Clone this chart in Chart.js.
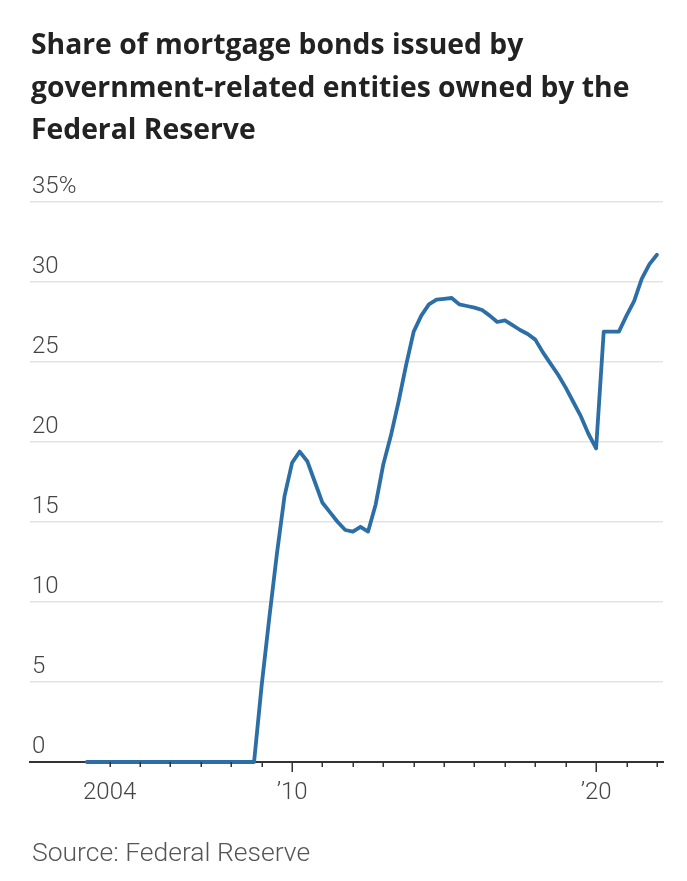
<!DOCTYPE html>
<html>
<head>
<meta charset="utf-8">
<script src="https://cdn.jsdelivr.net/npm/chart.js@4.4.1/dist/chart.umd.min.js"></script>
<style>
  html, body { margin: 0; padding: 0; background: #fff; }
  #wrap { position: relative; width: 687px; height: 881px; overflow: hidden; }
  #chart { position: absolute; left: 0; top: 0; }
  #title {
    position: absolute; left: 31px; top: 22px; width: 650px;
    font-family: "Open Sans", Roboto, sans-serif; font-weight: 700;
    font-size: 28.3px; line-height: 42.5px; color: #222;
  }
  #source {
    position: absolute; left: 32px; top: 837px;
    font-family: Roboto, "Noto Sans", sans-serif; font-weight: 300;
    font-size: 26.5px; line-height: 30px; color: #555;
  }
</style>
</head>
<body>
<div id="wrap">
  <canvas id="chart" width="687" height="881"></canvas>
  <div id="title">Share of mortgage bonds issued by<br>government-related entities owned by the<br>Federal Reserve</div>
  <div id="source">Source: Federal Reserve</div>
</div>
<script>
// quarterly observations, decimal years
const quarterDates = [
  2003.25, 2003.5, 2003.75,
  2004, 2004.25, 2004.5, 2004.75,
  2005, 2005.25, 2005.5, 2005.75,
  2006, 2006.25, 2006.5, 2006.75,
  2007, 2007.25, 2007.5, 2007.75,
  2008, 2008.25, 2008.5, 2008.75,
  2009, 2009.25, 2009.5, 2009.75,
  2010, 2010.25, 2010.5, 2010.75,
  2011, 2011.25, 2011.5, 2011.75,
  2012, 2012.25, 2012.5, 2012.75,
  2013, 2013.25, 2013.5, 2013.75,
  2014, 2014.25, 2014.5, 2014.75,
  2015, 2015.25, 2015.5, 2015.75,
  2016, 2016.25, 2016.5, 2016.75,
  2017, 2017.25, 2017.5, 2017.75,
  2018, 2018.25, 2018.5, 2018.75,
  2019, 2019.25, 2019.5, 2019.75,
  2020, 2020.25, 2020.5, 2020.75,
  2021, 2021.25, 2021.5, 2021.75,
  2022
]

// share owned by the Fed, %
const fedShare = [
  0, 0, 0,
  0, 0, 0, 0,
  0, 0, 0, 0,
  0, 0, 0, 0,
  0, 0, 0, 0,
  0, 0, 0, 0,
  4.8, 9.0, 13.0, 16.6,
  18.7, 19.4, 18.8, 17.5,
  16.2, 15.6, 15.0, 14.5,
  14.4, 14.7, 14.4, 16.1,
  18.6, 20.4, 22.5, 24.8,
  26.9, 27.9, 28.6, 28.9,
  28.95, 29.0, 28.6, 28.5,
  28.4, 28.25, 27.9, 27.5,
  27.6, 27.3, 27.0, 26.75,
  26.4, 25.6, 24.9, 24.2,
  23.4, 22.5, 21.6, 20.5,
  19.6, 26.9, 26.9, 26.9,
  27.9, 28.8, 30.2, 31.1,
  31.7
]

const yearTicks = [2004, 2005, 2006, 2007, 2008, 2009, 2010, 2011, 2012, 2013,
  2014, 2015, 2016, 2017, 2018, 2019, 2020, 2021, 2022]
const majorYears = [2010, 2020]
const yearLabels = { 2004: "2004", 2010: "\u201910", 2020: "\u201920" }
const yTicks = [0, 5, 10, 15, 20, 25, 30, 35]

const AXIS_COLOR = "#333"
const GRID_COLOR = "#e3e3e3"
const LINE_COLOR = "#2c6ea6"

// tick marks under the x axis, longer for decades
const tickMarks = {
  id: "tickMarks",
  afterDraw(chart) {
    const x = chart.scales.x
    const bottom = chart.chartArea.bottom
    const ctx = chart.ctx
    ctx.save()
    ctx.strokeStyle = AXIS_COLOR
    ctx.lineWidth = 1.5
    yearTicks.forEach(yr => {
      const px = Math.round(x.getPixelForValue(yr)) + 0.25
      const len = majorYears.includes(yr) ? 10 : 5
      ctx.beginPath()
      ctx.moveTo(px, bottom)
      ctx.lineTo(px, bottom + len)
      ctx.stroke()
    })
    ctx.restore()
  }
}

const ctx = document.getElementById("chart").getContext("2d")

new Chart(ctx, {
  type: "line",
  data: {
    datasets: [{
      data: quarterDates.map((d, i) => ({ x: d, y: fedShare[i] })),
      borderColor: LINE_COLOR,
      borderWidth: 3.8,
      borderJoinStyle: "round",
      borderCapStyle: "round",
      pointRadius: 0,
      tension: 0,
      clip: false
    }]
  },
  options: {
    responsive: false,
    animation: false,
    devicePixelRatio: 1,
    layout: { padding: { left: 30, right: 24, top: 202, bottom: 69 } },
    plugins: {
      legend: { display: false },
      tooltip: { enabled: false }
    },
    scales: {
      x: {
        type: "linear",
        min: 2001.38,
        max: 2022.2,
        afterBuildTicks: axis => { axis.ticks = yearTicks.map(v => ({ value: v })) },
        afterFit: axis => { axis.height = 50 },
        grid: { display: false, drawTicks: false },
        border: { display: true, color: AXIS_COLOR, width: 2 },
        ticks: {
          autoSkip: false,
          maxRotation: 0,
          padding: 17,
          color: "#444",
          font: { family: "Roboto", size: 24, weight: "300" },
          callback: v => yearLabels[v] || ""
        }
      },
      y: {
        min: 0,
        max: 35,
        afterBuildTicks: axis => { axis.ticks = yTicks.map(v => ({ value: v })) },
        afterFit: axis => { axis.width = 0 },
        grid: {
          drawTicks: false,
          color: c => c.tick && c.tick.value === 0 ? "rgba(0,0,0,0)" : GRID_COLOR,
          lineWidth: 1.5
        },
        border: { display: false },
        ticks: {
          mirror: true,
          padding: 2,
          labelOffset: -15,
          color: "#444",
          font: { family: "Roboto", size: 24, weight: "300" },
          callback: v => v === 35 ? "35%" : String(v)
        }
      }
    }
  },
  plugins: [tickMarks]
})
</script>
</body>
</html>
